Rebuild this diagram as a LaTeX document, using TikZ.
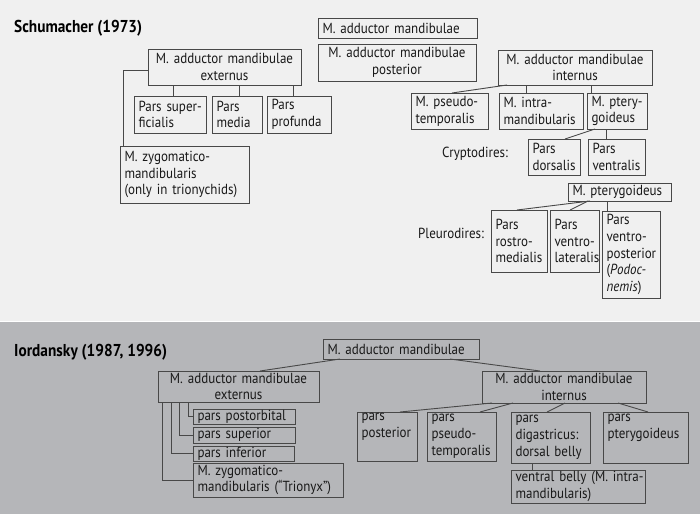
\documentclass[tikz,border=0pt]{standalone}
\usepackage{fontspec}
\setmainfont{PT Sans}[FakeStretch=0.89]
\usetikzlibrary{calc}
\definecolor{topbg}{RGB}{240,240,240}
\definecolor{botbg}{RGB}{181,182,185}
\definecolor{linec}{RGB}{72,72,72}
\definecolor{txt}{RGB}{25,25,25}
\newcommand\boxfont{\fontsize{14.6}{16.8}\selectfont}
\newcommand\mybox[7][align=left]{%
  \pgfmathsetmacro\bw{#5-#3}\pgfmathsetmacro\bh{#6-#4}\pgfmathsetmacro\tw{#5-#3-9}%
  \node[bx,#1,minimum width=\bw pt,minimum height=\bh pt,text width=\tw pt] (#2) at (#3,#4) {#7};}
\tikzset{
  bx/.style={draw=linec,line width=0.9pt,anchor=north west,outer sep=0pt,inner xsep=4.5pt,inner ysep=0.5pt,font=\boxfont,text=txt,
    execute at begin node={\hyphenpenalty=10000\exhyphenpenalty=10000}},
  conn/.style={draw=linec,line width=0.9pt},
  lbl/.style={font=\boxfont,text=txt,anchor=west,inner sep=0pt},
  ttl/.style={font=\fontsize{17.2}{20}\selectfont\bfseries,text=black,anchor=base west,inner sep=0pt}
}
\begin{document}
\begin{tikzpicture}[x=1pt,y=-1pt]
\useasboundingbox (0,0) rectangle (700,514);
\fill[topbg] (0,0) rectangle (700,320.5);
\fill[botbg] (0,321.5) rectangle (700,514);
\fill[white] (0,320.5) rectangle (700,321.8);
% ---------- top panel ----------
\node[ttl] (t1) at (14,32) {Schumacher (1973)};
\mybox{amt}{318}{18}{477}{38}{\mbox{M. adductor mandibulae}}
\mybox[align=center]{amp}{318}{44}{476}{81}{\mbox{M. adductor mandibulae}\\posterior}
\mybox[align=center]{ext}{148}{49}{301}{85}{\mbox{M. adductor mandibulae}\\externus}
\mybox{psup}{134}{96}{206}{133}{\mbox{Pars super-}\\ficialis}
\mybox{pmed}{212}{96}{262}{133}{Pars\\media}
\mybox{ppro}{267}{96}{331}{133}{Pars\\profunda}
\mybox{zyg}{120}{146}{249}{203}{\mbox{M. zygomatico-}\\mandibularis\\\mbox{(only in trionychids)}}
\mybox[align=center]{int}{498}{50}{652}{85}{\mbox{M. adductor mandibulae}\\internus}
\mybox{pseu}{411}{93}{488}{129}{\mbox{M. pseudo-}\\temporalis}
\mybox{intra}{499}{93}{583}{129}{\mbox{M. intra-}\\\mbox{mandibularis}}
\mybox[inner xsep=3pt]{pter}{587}{93}{647}{129}{\mbox{M. ptery-}\\goideus}
\node[lbl] (cry) at (442,154) {Cryptodires:};
\mybox{pdor}{528}{139}{580}{175}{Pars\\dorsalis}
\mybox[inner xsep=3pt]{pven}{588}{139}{645}{175}{Pars\\ventralis}
\mybox[inner xsep=3pt]{pter2}{568}{183}{671}{201}{\mbox{M. pterygoideus}}
\mybox[inner xsep=3pt]{prm}{491}{210}{547}{272}{Pars\\\mbox{rostro-}\\\mbox{medialis}}
\mybox[inner xsep=1.5pt]{pvl}{550}{210}{599}{272}{Pars\\\mbox{ventro-}\\\mbox{lateralis}}
\mybox[inner xsep=3pt]{pvp}{602}{211}{660}{298}{Pars\\\mbox{ventro-}\\\mbox{posterior}\\\mbox{(\textit{Podoc-}}\\\mbox{\textit{nemis})}}
\node[lbl] (pleu) at (418,233) {Pleurodires:};
% connectors top
\draw[conn] (ext.south -| 173,0) -- (psup.north -| 173,0);
\draw[conn] (ext.south -| 239,0) -- (pmed.north -| 239,0);
\draw[conn] (ext.south -| 293,0) -- (ppro.north -| 293,0);
\draw[conn] (ext.west |- 0,70) -| (zyg.north -| 123,0);
\draw[conn] (int.south -| 507,0) -- (pseu.north -| 452,0);
\draw[conn] (int.south -| 526,0) -- (intra.north -| 526,0);
\draw[conn] (int.south -| 591,0) -- (pter.north -| 591,0);
\draw[conn] (pter.south -| 595,0) -- (pdor.north -| 565,0);
\draw[conn] (pter.south -| 606,0) -- (pven.north -| 606,0);
\draw[conn] (pter2.south -| 590,0) -- (prm.north -| 517,0);
\draw[conn] (pter2.south -| 588,0) -- (pvl.north -| 570,0);
\draw[conn] (pter2.south -| 607,0) -- (pvp.north -| 607,0);
% ---------- bottom panel ----------
\node[ttl] (t2) at (14,356) {Iordansky (1987, 1996)};
\mybox{am}{323}{339}{479}{359}{\mbox{M. adductor mandibulae}}
\mybox[align=center]{ext2}{158}{371}{319}{402}{\mbox{M. adductor mandibulae}\\externus}
\mybox[align=center]{int2}{482}{371}{646}{403}{\mbox{M. adductor mandibulae}\\internus}
\mybox[inner xsep=3pt]{po}{193}{409}{295}{424}{\mbox{pars postorbital}}
\mybox[inner xsep=3pt]{su}{193}{427}{295}{443}{\mbox{pars superior}}
\mybox[inner xsep=3pt]{inf}{193}{446}{294}{461}{\mbox{pars inferior}}
\mybox[inner xsep=3pt]{zyg2}{193}{463}{343}{497}{\mbox{M. zygomatico-}\\\mbox{mandibularis (“Trionyx”)}}
\mybox[inner xsep=3pt]{pp}{357}{412}{417}{461}{pars\\posterior\\\strut}
\mybox[inner xsep=3pt]{pps}{427}{412}{496}{461}{pars\\\mbox{pseudo-}\\\mbox{temporalis}}
\mybox{pd}{511}{412}{590}{463}{pars\\\mbox{digastricus:}\\\mbox{dorsal belly}}
\mybox{ppt}{603}{412}{688}{463}{pars\\\mbox{pterygoideus}\\\strut}
\mybox{vb}{511}{470}{645}{503}{\mbox{ventral belly (M. intra-}\\\mbox{mandibularis)}}
% connectors bottom
\draw[conn] (am.south -| 340,0) -- (ext2.north -| 260,0);
\draw[conn] (am.south -| 450,0) -- (int2.north -| 540,0);
\draw[conn] (ext2.south -| 162,0) |- (zyg2.west);
\draw[conn] (ext2.south -| 171,0) |- (inf.west);
\draw[conn] (ext2.south -| 179,0) |- (su.west);
\draw[conn] (ext2.south -| 188,0) |- (po.west);
\draw[conn] (int2.south -| 492,0) -- (pp.north -| 400,0);
\draw[conn] (int2.south -| 513,0) -- (pps.north -| 480,0);
\draw[conn] (int2.south -| 565,0) -- (pd.north -| 547,0);
\draw[conn] (int2.south -| 618,0) -- (ppt.north -| 648,0);
\draw[conn] (pd.south -| 532,0) -- (vb.north -| 532,0);
\end{tikzpicture}
\end{document}
